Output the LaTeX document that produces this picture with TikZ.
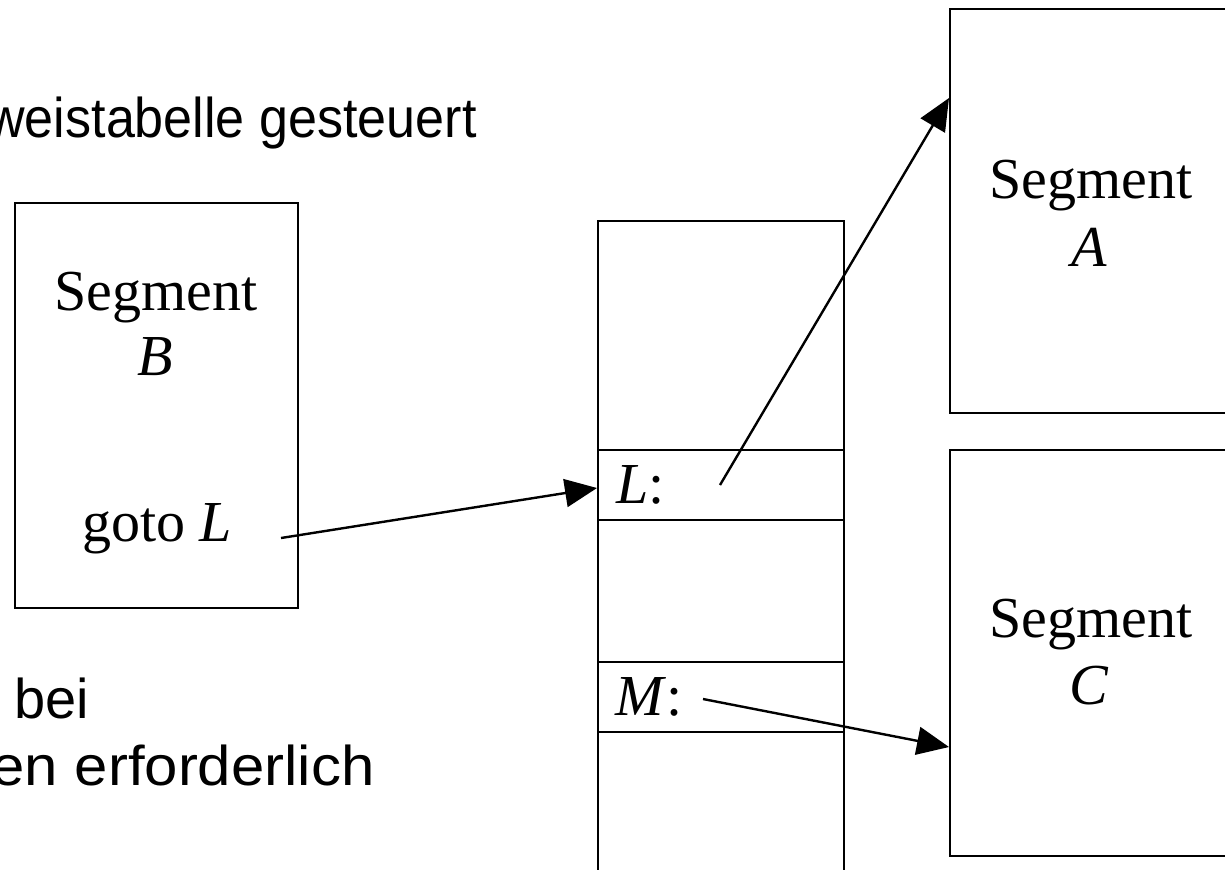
\documentclass[tikz,border=0pt]{standalone}
\usepackage{fontspec}
\setmainfont{Liberation Serif}
\newfontfamily\notefont{Liberation Sans}
\usetikzlibrary{arrows.meta}
\begin{document}
\begin{tikzpicture}[x=0.5pt,y=-0.5pt,
  box/.style={draw,line width=1.1pt,inner sep=0pt,anchor=north west},
  lbl/.style={font=\fontsize{29}{34}\selectfont,inner sep=0pt,anchor=base},
  note/.style={font=\notefont\fontsize{28}{32}\selectfont,inner sep=0pt},
  link/.style={line width=1.2pt,-{Triangle[length=16pt,width=14pt]}}]
\useasboundingbox (0,0) rectangle (1225,869);
\clip (0,0) rectangle (1225,869);
% side notes
\node[note,anchor=base east,xscale=0.93] (n1) at (477,137) {weistabelle gesteuert};
\node[note,anchor=base west] (n2) at (14,718) {bei};
\node[note,anchor=base east,xscale=1.07] (n3) at (375,785) {en erforderlich};
% segment B
\node[box,minimum width=283pt/2,minimum height=405pt/2] (segB) at (14,202) {};
\node[lbl] (tB1) at (156,310) {Segment};
\node[lbl] (tB2) at (155,375) {\textit{B}};
\node[lbl] (goto) at (157,541) {goto \textit{L}};
% jump table
\node[box,minimum width=246pt/2,minimum height=229pt/2] (c0) at (597,220) {};
\node[box,minimum width=246pt/2,minimum height=70pt/2] (cL) at (597,449) {};
\node[box,minimum width=246pt/2,minimum height=142pt/2] (c1) at (597,519) {};
\node[box,minimum width=246pt/2,minimum height=70pt/2] (cM) at (597,661) {};
\node[box,minimum width=246pt/2,minimum height=160pt/2] (c2) at (597,731) {};
\node[lbl,anchor=base west] (tL) at (616,503) {\textit{L}:};
\node[lbl,anchor=base west] (tM) at (615,715) {\textit{M}:};
% segments A and C
\node[box,minimum width=300pt/2,minimum height=404pt/2] (segA) at (949,8) {};
\node[lbl] (tA1) at (1091,198) {Segment};
\node[lbl] (tA2) at (1089,266) {\textit{A}};
\node[box,minimum width=300pt/2,minimum height=406pt/2] (segC) at (949,449) {};
\node[lbl] (tC1) at (1091,637) {Segment};
\node[lbl] (tC2) at (1089,704) {\textit{C}};
% jump links
\coordinate (gFrom) at (281,538);
\coordinate (lFrom) at (720,485);
\coordinate (mFrom) at (703,699);
\coordinate (lIn) at (597,488);
\coordinate (aIn) at (949,98);
\coordinate (cIn) at (949,747);
\draw[link] (gFrom) -- (lIn);
\draw[link] (lFrom) -- (aIn);
\draw[link] (mFrom) -- (cIn);
\end{tikzpicture}
\end{document}
